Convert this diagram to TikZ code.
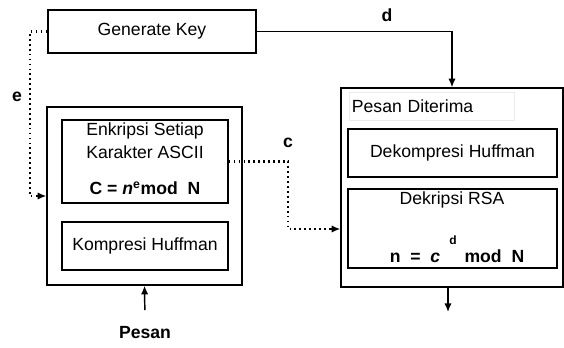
\documentclass[tikz,border=0pt]{standalone}
\usepackage{fontspec}
\setmainfont{Liberation Sans}
\usetikzlibrary{arrows.meta,calc}

\begin{document}
\begin{tikzpicture}[x=0.75pt,y=0.75pt,yscale=-1,xscale=1,
    box/.style={draw, line width=1.1pt, inner sep=0pt},
    txt/.style={font=\fontsize{13.2}{16}\selectfont},
    lbl/.style={font=\fontsize{13.2}{16}\selectfont\bfseries},
    dots/.style={line width=1.7pt, dash pattern=on 1.3pt off 2.4pt},
    tip/.style={-{Latex[length=6.5pt,width=5.5pt]}}]
        \useasboundingbox (0,0) rectangle (564,347);
        %Shape: Rectangle [id:generate]
        \node[box, minimum width=156pt, minimum height=32.25pt, txt] (gen) at (152,31.5) {Generate Key};
        %Shape: Rectangle [id:send]
        \node[box, minimum width=146.25pt, minimum height=133.5pt] (send) at (144.5,196) {};
        \node[box, minimum width=124.5pt, minimum height=62.25pt] (enc) at (145,161.5) {};
        \node[box, minimum width=124.5pt, minimum height=36pt, txt] (comp) at (145,246) {Kompresi Huffman};
        %Shape: Rectangle [id:recv]
        \node[box, minimum width=166.5pt, minimum height=149.25pt] (recv) at (452,187.5) {};
        \node[box, minimum width=156.75pt, minimum height=36pt, txt] (decomp) at (452.5,153) {Dekompresi Huffman};
        \node[box, minimum width=156.75pt, minimum height=59.25pt] (dec) at (452.5,228.5) {};
        % Text Node
        \node[txt, anchor=west, draw=black!8, text width=120pt, align=left, minimum height=21pt, inner xsep=2pt, inner ysep=1pt] (recvlbl) at (349,106) {Pesan Diterima};
        \node[txt] (enc1) at (145,131) {Enkripsi Setiap};
        \node[txt] (enc2) at (145,152) {Karakter ASCII};
        \node[lbl] (encf) at (145,188) {C = \textit{n}\textsuperscript{e}mod\ \ N};
        \node[txt] (dec1) at (452,200) {Dekripsi RSA};
        \node[lbl] (decf) at (457,256) {n\ \ =\ \ \textit{c}\ \ \ \ \ mod\ \ N};
        \node[font=\fontsize{9}{10}\selectfont\bfseries] (decsup) at (453,240) {d};
        \node[lbl] (msg) at (145,333) {Pesan};
        \node[lbl] (lbld) at (387,15) {d};
        \node[lbl] (lble) at (17,97) {e};
        \node[lbl] (lblc) at (288,143) {c};
        \coordinate (eturn) at (30,31.5);
        \coordinate (cturn) at (288,229);
        \coordinate (out) at (448,312);
        %Straight Lines [id:key-d]
        \draw[line width=1.1pt, tip] (gen.east) -| (recv.north);
        %Straight Lines [id:key-e]
        \draw[dots] (gen.west) -- (eturn) |- ($(send.west)+(-8,0)$);
        \draw[line width=1.1pt, tip] ($(send.west)+(-9,0)$) -- (send.west);
        %Straight Lines [id:cipher]
        \draw[dots] (enc.east) -| (cturn) -- ($(cturn -| recv.west)+(-8,0)$);
        \draw[line width=1.1pt, tip] ($(cturn -| recv.west)+(-9,0)$) -- (cturn -| recv.west);
        %Straight Lines [id:input]
        \draw[line width=1.1pt, tip, shorten <=9pt] (msg.north) -- (send.south);
        %Straight Lines [id:output]
        \draw[line width=1.1pt, tip] (recv.south -| out) -- (out);
\end{tikzpicture}
\end{document}
